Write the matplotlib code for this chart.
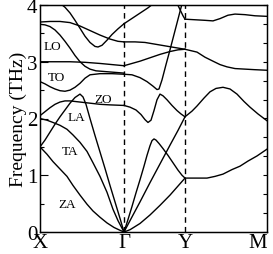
import matplotlib.pyplot as plt
import numpy as np

plt.rcParams['font.family'] = ['Liberation Serif', 'DejaVu Serif']

# high symmetry points (path coordinate)
kpts = [0.0, 0.84, 1.45, 2.27]
klabels = ['X', 'Γ', 'Y', 'M']

# branches: (k, frequency in THz)
# X - Gamma
za_xg_k = [0.00, 0.07, 0.13, 0.20, 0.27, 0.33, 0.40, 0.47, 0.53, 0.60, 0.67, 0.74, 0.80, 0.84]
za_xg_f = [1.50, 1.37, 1.24, 1.11, 0.98, 0.82, 0.65, 0.49, 0.37, 0.26, 0.16, 0.08, 0.03, 0.00]

ta_xg_k = [0.00, 0.07, 0.13, 0.20, 0.27, 0.33, 0.40, 0.47, 0.53, 0.60, 0.67, 0.73, 0.78, 0.84]
ta_xg_f = [2.00, 1.97, 1.93, 1.88, 1.81, 1.71, 1.58, 1.42, 1.22, 0.98, 0.70, 0.40, 0.20, 0.00]

la_xg_k = [0.00, 0.05, 0.10, 0.15, 0.20, 0.25, 0.30, 0.35, 0.40, 0.43, 0.46, 0.50, 0.55, 0.60, 0.65, 0.70, 0.75, 0.80, 0.84]
la_xg_f = [1.50, 1.62, 1.76, 1.90, 2.03, 2.15, 2.27, 2.37, 2.43, 2.38, 2.25, 2.00, 1.70, 1.41, 1.12, 0.82, 0.53, 0.24, 0.00]

zo_xg_k = [0.00, 0.05, 0.10, 0.15, 0.20, 0.25, 0.30, 0.40, 0.50, 0.60, 0.70, 0.84]
zo_xg_f = [2.05, 2.12, 2.19, 2.25, 2.29, 2.31, 2.31, 2.29, 2.27, 2.25, 2.24, 2.23]

to_xg_k = [0.00, 0.05, 0.10, 0.15, 0.20, 0.25, 0.30, 0.35, 0.40, 0.45, 0.50, 0.60, 0.72, 0.84]
to_xg_f = [2.65, 2.61, 2.56, 2.52, 2.49, 2.48, 2.50, 2.55, 2.62, 2.71, 2.77, 2.79, 2.79, 2.78]

lo_xg_k = [0.00, 0.15, 0.30, 0.45, 0.60, 0.72, 0.84]
lo_xg_f = [3.00, 3.00, 3.00, 2.99, 2.97, 2.95, 2.93]

c_xg_k = [0.00, 0.05, 0.10, 0.15, 0.20, 0.25, 0.30, 0.35, 0.40, 0.45, 0.50, 0.56, 0.63, 0.70, 0.77, 0.84]
c_xg_f = [3.66, 3.65, 3.62, 3.56, 3.47, 3.36, 3.24, 3.11, 3.00, 2.92, 2.87, 2.84, 2.83, 2.82, 2.81, 2.80]

b_xg_k = [0.00, 0.10, 0.20, 0.30, 0.40, 0.50, 0.60, 0.70, 0.78, 0.84]
b_xg_f = [3.70, 3.71, 3.71, 3.69, 3.63, 3.55, 3.47, 3.40, 3.36, 3.35]

a_xg_k = [0.20, 0.25, 0.30, 0.35, 0.40, 0.45, 0.50, 0.55, 0.58, 0.62, 0.67, 0.72, 0.78, 0.84]
a_xg_f = [4.03, 3.96, 3.86, 3.73, 3.59, 3.45, 3.34, 3.27, 3.26, 3.29, 3.38, 3.48, 3.58, 3.67]

# Gamma - Y
za_gy_k = [0.84, 0.90, 1.00, 1.10, 1.20, 1.30, 1.38, 1.45]
za_gy_f = [0.00, 0.04, 0.15, 0.30, 0.47, 0.65, 0.81, 0.95]

ta_gy_k = [0.84, 0.88, 0.92, 0.96, 1.00, 1.04, 1.07, 1.10, 1.12, 1.14, 1.16, 1.19, 1.23, 1.28, 1.33, 1.38, 1.42, 1.45]
ta_gy_f = [0.00, 0.22, 0.45, 0.69, 0.92, 1.16, 1.35, 1.52, 1.61, 1.64, 1.62, 1.56, 1.47, 1.35, 1.22, 1.09, 1.00, 0.95]

la_gy_k = [0.84, 0.90, 1.00, 1.10, 1.20, 1.30, 1.38, 1.45]
la_gy_f = [0.00, 0.20, 0.53, 0.87, 1.20, 1.53, 1.79, 2.03]

zo_gy_k = [0.84, 0.90, 0.96, 1.01, 1.05, 1.08, 1.11, 1.14, 1.17, 1.20, 1.23, 1.27, 1.32, 1.37, 1.41, 1.45]
zo_gy_f = [2.23, 2.20, 2.15, 2.07, 1.98, 1.93, 1.97, 2.14, 2.33, 2.43, 2.40, 2.33, 2.23, 2.14, 2.08, 2.03]

e_gy_k = [0.84, 0.92, 1.00, 1.07, 1.13, 1.17, 1.19, 1.22, 1.26, 1.30, 1.34, 1.38, 1.42]
e_gy_f = [2.78, 2.77, 2.72, 2.65, 2.57, 2.51, 2.52, 2.68, 2.95, 3.21, 3.48, 3.75, 4.02]

f_gy_k = [0.84, 0.90, 1.00, 1.10, 1.20, 1.30, 1.38, 1.45]
f_gy_f = [2.93, 2.96, 3.01, 3.07, 3.13, 3.18, 3.21, 3.22]

g_gy_k = [0.84, 0.95, 1.05, 1.15, 1.25, 1.35, 1.45]
g_gy_f = [3.35, 3.35, 3.34, 3.31, 3.28, 3.25, 3.22]

h_gy_k = [0.84, 0.90, 0.96, 1.02, 1.08, 1.13]
h_gy_f = [3.67, 3.74, 3.81, 3.88, 3.95, 4.02]

i_gy_k = [1.37, 1.40, 1.43, 1.45]
i_gy_f = [4.03, 3.92, 3.81, 3.75]

# Y - M
ym1_k = [1.45, 1.55, 1.65, 1.73, 1.80, 1.88, 1.95, 2.05, 2.15, 2.27]
ym1_f = [3.75, 3.74, 3.73, 3.72, 3.76, 3.82, 3.84, 3.83, 3.81, 3.80]

ym2_k = [1.45, 1.57, 1.65, 1.73, 1.80, 1.87, 1.95, 2.05, 2.15, 2.27]
ym2_f = [3.22, 3.17, 3.08, 3.01, 2.95, 2.91, 2.88, 2.87, 2.86, 2.85]

ym3_k = [1.45, 1.52, 1.57, 1.64, 1.70, 1.76, 1.83, 1.90, 1.97, 2.04, 2.10, 2.18, 2.27]
ym3_f = [2.03, 2.13, 2.22, 2.36, 2.47, 2.53, 2.55, 2.52, 2.43, 2.30, 2.20, 2.08, 1.96]

ym4_k = [1.45, 1.55, 1.67, 1.75, 1.83, 1.92, 2.00, 2.08, 2.17, 2.27]
ym4_f = [0.95, 0.95, 0.95, 0.98, 1.02, 1.10, 1.16, 1.25, 1.34, 1.46]

branches = [
    (za_xg_k, za_xg_f), (ta_xg_k, ta_xg_f), (la_xg_k, la_xg_f), (zo_xg_k, zo_xg_f),
    (to_xg_k, to_xg_f), (lo_xg_k, lo_xg_f), (c_xg_k, c_xg_f), (b_xg_k, b_xg_f),
    (a_xg_k, a_xg_f),
    (za_gy_k, za_gy_f), (ta_gy_k, ta_gy_f), (la_gy_k, la_gy_f), (zo_gy_k, zo_gy_f),
    (e_gy_k, e_gy_f), (f_gy_k, f_gy_f), (g_gy_k, g_gy_f), (h_gy_k, h_gy_f),
    (i_gy_k, i_gy_f),
    (ym1_k, ym1_f), (ym2_k, ym2_f), (ym3_k, ym3_f), (ym4_k, ym4_f),
]

# mode labels
mode_names = ['LO', 'TO', 'ZO', 'LA', 'TA', 'ZA']
mode_k = [0.12, 0.16, 0.63, 0.36, 0.30, 0.27]
mode_f = [3.28, 2.73, 2.34, 2.03, 1.42, 0.49]

fig = plt.figure(figsize=(2.73, 2.55), dpi=100)
ax = fig.add_axes([40 / 273, 22 / 255, 227 / 273, 227 / 255])

for k, f in branches:
    ax.plot(k, f, color='black', linewidth=1.0)

for kp in kpts[1:3]:
    ax.axvline(kp, color='black', linestyle=(0, (4, 3)), linewidth=1.0)

for name, k, f in zip(mode_names, mode_k, mode_f):
    ax.text(k, f, name, fontsize=9.5, ha='center', va='center')

ax.set_xlim(kpts[0], kpts[-1])
ax.set_ylim(0, 4)
ax.set_xticks(kpts)
ax.set_xticklabels(klabels, fontsize=15)
ax.get_xticklabels()[-1].set_horizontalalignment('right')
ax.set_yticks([0, 1, 2, 3, 4])
ax.set_yticklabels(['0', '1', '2', '3', '4'], fontsize=15)
ax.set_yticks(np.arange(0, 4.01, 0.5), minor=True)
ax.tick_params(axis='x', length=0, pad=1)
ax.tick_params(axis='y', which='major', direction='in', length=6, width=0.8, pad=2)
ax.tick_params(axis='y', which='minor', direction='in', length=3, width=0.8)
ax.set_ylabel('Frequency (THz)', fontsize=14, labelpad=0)

# ticks on right side
ax2 = ax.twinx()
ax2.set_ylim(0, 4)
ax2.set_yticks(np.arange(0, 4.01, 1 / 3))
ax2.set_yticklabels([])
ax2.tick_params(axis='y', direction='in', length=3, width=0.8)

for sp in ax.spines.values():
    sp.set_linewidth(1.0)

fig.savefig('out.png', dpi=100)
